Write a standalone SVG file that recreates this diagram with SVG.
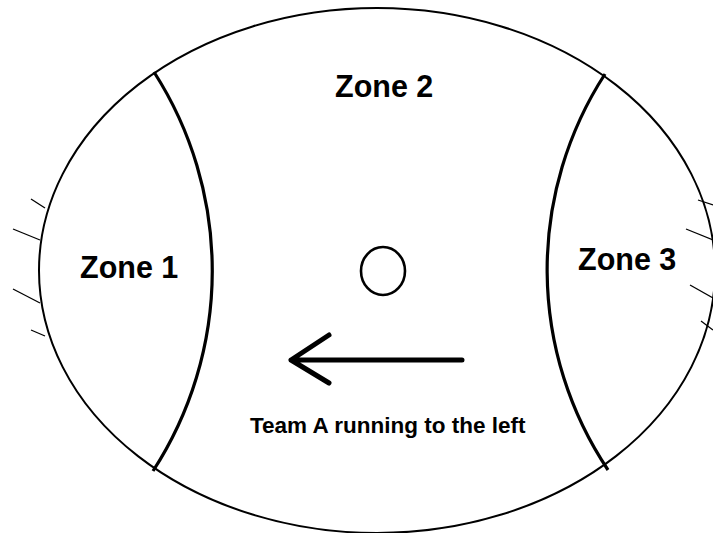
<svg xmlns="http://www.w3.org/2000/svg" width="713" height="533" viewBox="0 0 713 533">
<style>
.outline{fill:none;stroke:#000;stroke-width:2}
.divider{fill:none;stroke:#000;stroke-width:3.2}
.hatch{fill:none;stroke:#000;stroke-width:1.3}
.zone{font-family:"Liberation Sans",Arial,sans-serif;font-weight:bold;font-size:30.5px;fill:#000}
.caption{font-family:"Liberation Sans",Arial,sans-serif;font-weight:bold;font-size:22.5px;fill:#000}
.arrow{fill:none;stroke:#000;stroke-width:5;stroke-linecap:round;stroke-linejoin:round}
</style>
<rect width="713" height="533" fill="#fff"/>
<g id="field">
<ellipse class="outline" cx="377" cy="270.5" rx="338" ry="262.5"/>
</g>
<g id="connectors">
<path class="divider" d="M154,72 A368,368 0 0 1 153,471"/>
<path class="divider" d="M605,74 A360,360 0 0 0 608,470"/>
</g>
<g id="hatches">
<line class="hatch" x1="31" y1="199" x2="45" y2="208"/>
<line class="hatch" x1="13" y1="229" x2="40" y2="240"/>
<line class="hatch" x1="13" y1="289" x2="40" y2="303"/>
<line class="hatch" x1="31" y1="330" x2="45" y2="336"/>
<line class="hatch" x1="698" y1="200" x2="713" y2="205"/>
<line class="hatch" x1="686" y1="229" x2="713" y2="240"/>
<line class="hatch" x1="690" y1="285" x2="713" y2="298"/>
<line class="hatch" x1="701" y1="321" x2="713" y2="330"/>
</g>
<g id="zone1"><text class="zone" x="80" y="278">Zone 1</text></g>
<g id="zone2"><text class="zone" x="335" y="97">Zone 2</text></g>
<g id="zone3"><text class="zone" x="578" y="270">Zone 3</text></g>
<g id="ball"><ellipse cx="383" cy="271" rx="22" ry="24" fill="none" stroke="#000" stroke-width="2.6"/></g>
<g id="direction">
<path class="arrow" d="M462,360 H291 M329,335 L291,360 L329,383"/>
<text class="caption" x="250" y="433">Team A running to the left</text>
</g>
</svg>
